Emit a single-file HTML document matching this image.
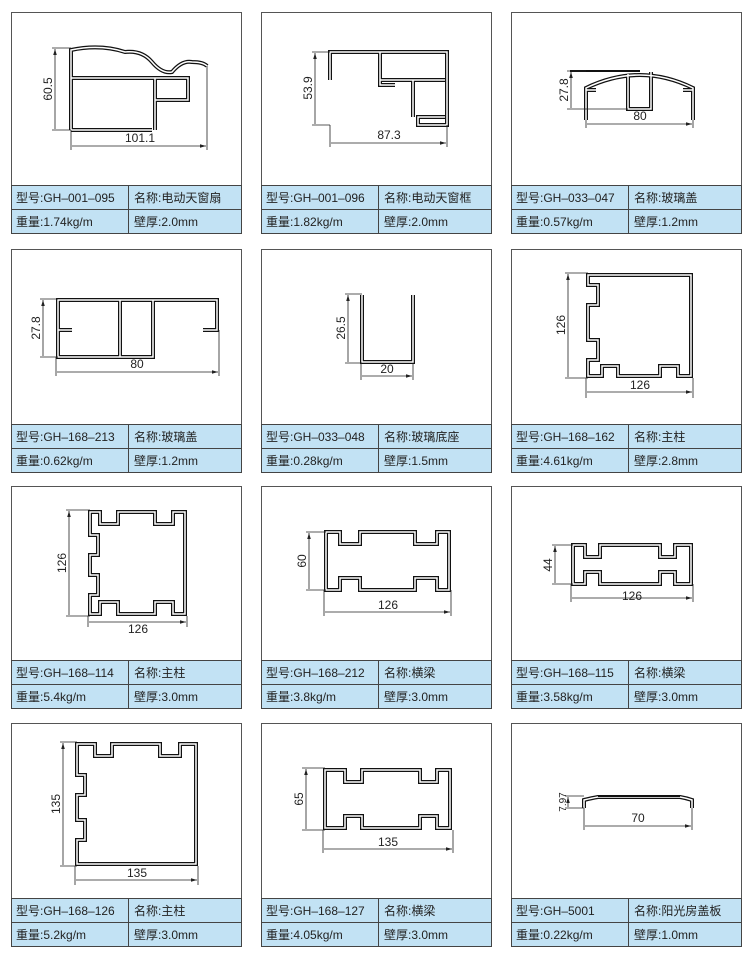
<!DOCTYPE html>
<html><head><meta charset="utf-8"><style>
html,body{margin:0;padding:0;background:#fff;}
svg{display:block;}
text{font-family:"Liberation Sans","Noto Sans CJK SC",sans-serif;fill:#222;}
.o{fill:none;stroke:#111;stroke-width:4;stroke-linejoin:miter;}
.i{fill:none;stroke:#fff;stroke-width:1.5;stroke-linejoin:miter;}
.d{stroke:#222;stroke-width:0.8;fill:none;}
.t{font-size:12px;}
.tb{font-size:12px;}
</style></head><body>
<svg width="750" height="953" viewBox="0 0 750 953" xmlns="http://www.w3.org/2000/svg">
<defs>
<marker id="a" viewBox="0 0 10 10" refX="10" refY="5" markerWidth="6" markerHeight="6" markerUnits="userSpaceOnUse" orient="auto-start-reverse"><path d="M0,2 L10,5 L0,8z" fill="#222"/></marker>
<path id="p1" d="M71,130 L71,50 Q100,44 125,52 Q142,50 152,62 Q162,74 172,72 Q182,60 192,62 Q203,62 207,66 M71,78 L155,78 L155,130 M155,78 L188,78 L188,100 L155,100 M71,130 L152,130"/>
<path id="p2" d="M330,80 L330,52 L447,52 L447,125 L418,125 L418,117 L445,117 M380,52 L380,80 L445,80 M413,80 L413,117 M380,80 L380,85 L395,85"/>
<path id="p3" d="M586,120 L586,88 Q640,62 693,88 L693,120 M628,74 L628,109 L651,109 L651,72 M586,90 L596,90 M693,90 L683,90"/>
<path id="p4" d="M58,330 L58,300 L217,300 L217,330 L203,330 M58,330 L72,330 M120,300 L120,357 L153,357 L153,300 M58,300 L58,357 L120,357"/>
<path id="p5" d="M362,295 L362,362 L413,362 L413,295"/>
<path id="p6" d="M588,275 L691,275 L691,376 L678,376 L678,366 L660,366 L660,376 L618,376 L618,366 L602,366 L602,376 L588,376 L588,360 L598,360 L598,340 L588,340 L588,305 L598,305 L598,285 L588,285 Z"/>
<path id="p7" d="M90,512 L100,512 L100,524 L118,524 L118,512 L155,512 L155,524 L173,524 L173,512 L185,512 L185,614 L173,614 L173,602 L155,602 L155,614 L118,614 L118,602 L100,602 L100,614 L90,614 L90,595 L98,595 L98,575 L90,575 L90,555 L98,555 L98,535 L90,535 Z"/>
<path id="p8" d="M326,532 L340,532 L340,544 L360,544 L360,532 L415,532 L415,544 L437,544 L437,532 L449,532 L449,590 L437,590 L437,578 L415,578 L415,590 L360,590 L360,578 L340,578 L340,590 L326,590 Z"/>
<path id="p9" d="M573,545 L585,545 L585,557 L600,557 L600,545 L660,545 L660,557 L675,557 L675,545 L691,545 L691,584 L675,584 L675,572 L660,572 L660,584 L600,584 L600,572 L585,572 L585,584 L573,584 Z"/>
<path id="p10" d="M77,744 L95,744 L95,756 L112,756 L112,744 L160,744 L160,756 L180,756 L180,744 L196,744 L196,864 L77,864 L77,840 L85,840 L85,820 L77,820 L77,795 L85,795 L85,775 L77,775 Z"/>
<path id="p11" d="M325,770 L345,770 L345,782 L362,782 L362,770 L420,770 L420,782 L437,782 L437,770 L450,770 L450,828 L437,828 L437,816 L420,816 L420,828 L362,828 L362,816 L345,816 L345,828 L325,828 Z"/>
</defs>

<g fill="none" stroke="#555" stroke-width="1">
<rect x="11.5" y="12.5" width="230" height="221"/><rect x="261.5" y="12.5" width="230" height="221"/><rect x="511.5" y="12.5" width="230" height="221"/>
<rect x="11.5" y="249.5" width="230" height="223"/><rect x="261.5" y="249.5" width="230" height="223"/><rect x="511.5" y="249.5" width="230" height="223"/>
<rect x="11.5" y="486.5" width="230" height="222"/><rect x="261.5" y="486.5" width="230" height="222"/><rect x="511.5" y="486.5" width="230" height="222"/>
<rect x="11.5" y="723.5" width="230" height="223"/><rect x="261.5" y="723.5" width="230" height="223"/><rect x="511.5" y="723.5" width="230" height="223"/>
</g>
<g fill="#c2e2f4" stroke="#444" stroke-width="1">
<rect x="11.5" y="185.5" width="230" height="48"/><rect x="261.5" y="185.5" width="230" height="48"/><rect x="511.5" y="185.5" width="230" height="48"/>
<rect x="11.5" y="424.5" width="230" height="48"/><rect x="261.5" y="424.5" width="230" height="48"/><rect x="511.5" y="424.5" width="230" height="48"/>
<rect x="11.5" y="660.5" width="230" height="48"/><rect x="261.5" y="660.5" width="230" height="48"/><rect x="511.5" y="660.5" width="230" height="48"/>
<rect x="11.5" y="898.5" width="230" height="48"/><rect x="261.5" y="898.5" width="230" height="48"/><rect x="511.5" y="898.5" width="230" height="48"/>
</g>
<g stroke="#444" stroke-width="1">
<path d="M11,209.5H241M261,209.5H491M511,209.5H741M128.5,185V233M378.5,185V233M628.5,185V233"/>
<path d="M11,448.5H241M261,448.5H491M511,448.5H741M128.5,424V472M378.5,424V472M628.5,424V472"/>
<path d="M11,684.5H241M261,684.5H491M511,684.5H741M128.5,660V708M378.5,660V708M628.5,660V708"/>
<path d="M11,922.5H241M261,922.5H491M511,922.5H741M128.5,898V946M378.5,898V946M628.5,898V946"/>
</g>
<g class="tb">
<text x="16" y="202">型号:GH–001–095</text><text x="134" y="202">名称:电动天窗扇</text><text x="16" y="226">重量:1.74kg/m</text><text x="134" y="226">壁厚:2.0mm</text>
<text x="266" y="202">型号:GH–001–096</text><text x="384" y="202">名称:电动天窗框</text><text x="266" y="226">重量:1.82kg/m</text><text x="384" y="226">壁厚:2.0mm</text>
<text x="516" y="202">型号:GH–033–047</text><text x="634" y="202">名称:玻璃盖</text><text x="516" y="226">重量:0.57kg/m</text><text x="634" y="226">壁厚:1.2mm</text>

<text x="16" y="441">型号:GH–168–213</text><text x="134" y="441">名称:玻璃盖</text><text x="16" y="465">重量:0.62kg/m</text><text x="134" y="465">壁厚:1.2mm</text>
<text x="266" y="441">型号:GH–033–048</text><text x="384" y="441">名称:玻璃底座</text><text x="266" y="465">重量:0.28kg/m</text><text x="384" y="465">壁厚:1.5mm</text>
<text x="516" y="441">型号:GH–168–162</text><text x="634" y="441">名称:主柱</text><text x="516" y="465">重量:4.61kg/m</text><text x="634" y="465">壁厚:2.8mm</text>

<text x="16" y="677">型号:GH–168–114</text><text x="134" y="677">名称:主柱</text><text x="16" y="701">重量:5.4kg/m</text><text x="134" y="701">壁厚:3.0mm</text>
<text x="266" y="677">型号:GH–168–212</text><text x="384" y="677">名称:横梁</text><text x="266" y="701">重量:3.8kg/m</text><text x="384" y="701">壁厚:3.0mm</text>
<text x="516" y="677">型号:GH–168–115</text><text x="634" y="677">名称:横梁</text><text x="516" y="701">重量:3.58kg/m</text><text x="634" y="701">壁厚:3.0mm</text>

<text x="16" y="915">型号:GH–168–126</text><text x="134" y="915">名称:主柱</text><text x="16" y="939">重量:5.2kg/m</text><text x="134" y="939">壁厚:3.0mm</text>
<text x="266" y="915">型号:GH–168–127</text><text x="384" y="915">名称:横梁</text><text x="266" y="939">重量:4.05kg/m</text><text x="384" y="939">壁厚:3.0mm</text>
<text x="516" y="915">型号:GH–5001</text><text x="634" y="915">名称:阳光房盖板</text><text x="516" y="939">重量:0.22kg/m</text><text x="634" y="939">壁厚:1.0mm</text>
</g>

<g class="o">
<use href="#p1"/><use href="#p2"/><use href="#p3"/><use href="#p4"/><use href="#p5"/><use href="#p6"/><use href="#p7"/><use href="#p8"/><use href="#p9"/><use href="#p10"/><use href="#p11"/>
<path d="M584,808 L584,800 Q592,798 598,797 L680,797 Q686,798 692,800 L692,808"/>
</g>
<g class="i">
<use href="#p1"/><use href="#p2"/><use href="#p3"/><use href="#p4"/><use href="#p5"/><use href="#p6"/><use href="#p7"/><use href="#p8"/><use href="#p9"/><use href="#p10"/><use href="#p11"/>
<path d="M584,808 L584,800 Q592,798 598,797 L680,797 Q686,798 692,800 L692,808"/>
</g>
<path d="M570,71 L640,71" stroke="#111" stroke-width="2"/>
<path d="M598,796 L680,796" stroke="#111" stroke-width="2"/>

<g class="d">
<path d="M52,48H71M52,130H71M71,130V150M207,66V150"/>
<path d="M55,49V129M72,146H206" marker-start="url(#a)" marker-end="url(#a)"/>
<path d="M312,52H330M312,125H330M330,125V147M447,125V147"/>
<path d="M315,53V124M331,143H446" marker-start="url(#a)" marker-end="url(#a)"/>
<path d="M567,71H586M567,109H628M586,120V128M693,120V128"/>
<path d="M571,72V108M587,124H692" marker-start="url(#a)" marker-end="url(#a)"/>

<path d="M40,299H58M40,357H58M56,357V376M219,330V376"/>
<path d="M43,300V356M57,372H218" marker-start="url(#a)" marker-end="url(#a)"/>
<path d="M345,294H362M345,363H362M361,363V380M413,363V380"/>
<path d="M348,295V362M362,376H412" marker-start="url(#a)" marker-end="url(#a)"/>
<path d="M565,273H588M565,378H588M586,378V398M693,378V398"/>
<path d="M568,274V377M587,392H692" marker-start="url(#a)" marker-end="url(#a)"/>

<path d="M66,510H90M66,616H90M88,616V627M187,616V627"/>
<path d="M69,511V615M89,622H186" marker-start="url(#a)" marker-end="url(#a)"/>
<path d="M306,532H326M306,590H326M324,590V616M451,590V616"/>
<path d="M309,533V589M325,612H450" marker-start="url(#a)" marker-end="url(#a)"/>
<path d="M552,545H573M552,584H573M571,584V602M693,584V602"/>
<path d="M555,546V583M572,598H692" marker-start="url(#a)" marker-end="url(#a)"/>

<path d="M60,742H77M60,866H77M75,866V885M198,866V885"/>
<path d="M63,743V865M76,880H197" marker-start="url(#a)" marker-end="url(#a)"/>
<path d="M302,768H325M302,830H325M323,830V853M453,830V853"/>
<path d="M306,769V829M324,849H452" marker-start="url(#a)" marker-end="url(#a)"/>
<path d="M565,796H584M565,808H584M584,808V830M692,808V830"/>
<path d="M568,797V807M585,826H691" marker-start="url(#a)" marker-end="url(#a)"/>
</g>
<g class="t">
<text x="140" y="142" text-anchor="middle">101.1</text>
<text transform="translate(52,89) rotate(-90)" text-anchor="middle">60.5</text>
<text x="389" y="139" text-anchor="middle">87.3</text>
<text transform="translate(312,88) rotate(-90)" text-anchor="middle">53.9</text>
<text x="640" y="120" text-anchor="middle">80</text>
<text transform="translate(568,90) rotate(-90)" text-anchor="middle">27.8</text>

<text x="137" y="368" text-anchor="middle">80</text>
<text transform="translate(40,328) rotate(-90)" text-anchor="middle">27.8</text>
<text x="387" y="373" text-anchor="middle">20</text>
<text transform="translate(345,328) rotate(-90)" text-anchor="middle">26.5</text>
<text x="640" y="389" text-anchor="middle">126</text>
<text transform="translate(565,325) rotate(-90)" text-anchor="middle">126</text>

<text x="138" y="633" text-anchor="middle">126</text>
<text transform="translate(66,563) rotate(-90)" text-anchor="middle">126</text>
<text x="388" y="609" text-anchor="middle">126</text>
<text transform="translate(306,561) rotate(-90)" text-anchor="middle">60</text>
<text x="632" y="600" text-anchor="middle">126</text>
<text transform="translate(552,565) rotate(-90)" text-anchor="middle">44</text>

<text x="137" y="877" text-anchor="middle">135</text>
<text transform="translate(60,804) rotate(-90)" text-anchor="middle">135</text>
<text x="388" y="846" text-anchor="middle">135</text>
<text transform="translate(303,799) rotate(-90)" text-anchor="middle">65</text>
<text x="638" y="822" text-anchor="middle">70</text>
<text transform="translate(566,802) rotate(-90)" text-anchor="middle" style="font-size:10px">7.97</text>
</g>
</svg>
</body></html>
